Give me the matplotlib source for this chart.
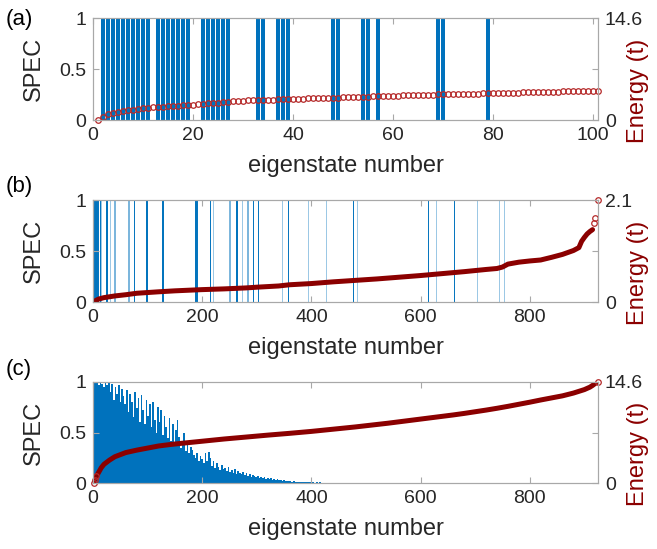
import matplotlib
matplotlib.use('Agg')
import matplotlib.pyplot as plt
import numpy as np

plt.rcParams['font.family'] = ['Liberation Sans', 'DejaVu Sans']

blue = '#0072BD'
dark_red = '#8B0000'
txt = '#262626'
spine = '#a8a8a8'

# ---- panel (a): 101 eigenstates
spec_a_states = [2, 3, 4, 5, 6, 7, 8, 9, 10, 11, 13, 14, 15, 16, 17, 18, 19,
                 22, 23, 24, 25, 26, 27, 33, 34, 37, 38, 39, 48, 49, 54, 55, 57,
                 69, 70, 79]
energy_a = [0.0, 0.4, 0.85, 1.0, 1.15, 1.3, 1.4, 1.5, 1.6, 1.7,
            1.75, 1.8, 1.85, 1.9, 1.95, 2.0, 2.05, 2.1, 2.15, 2.2,
            2.25, 2.3, 2.4, 2.45, 2.5, 2.55, 2.6, 2.65, 2.7, 2.75,
            2.8, 2.82, 2.85, 2.88, 2.9, 2.93, 2.95, 2.98, 3.0, 3.02,
            3.05, 3.07, 3.1, 3.12, 3.14, 3.16, 3.18, 3.2, 3.22, 3.25,
            3.27, 3.29, 3.31, 3.33, 3.35, 3.38, 3.4, 3.42, 3.45, 3.47,
            3.49, 3.51, 3.53, 3.55, 3.58, 3.6, 3.62, 3.65, 3.68, 3.7,
            3.72, 3.73, 3.74, 3.75, 3.76, 3.77, 3.78, 3.8, 3.81, 3.82,
            3.84, 3.86, 3.88, 3.9, 3.92, 3.94, 3.96, 3.98, 4.0, 4.02,
            4.04, 4.06, 4.08, 4.1, 4.12, 4.14, 4.16, 4.17, 4.18, 4.19, 4.2]
emax_a = 14.6

# ---- panel (b): 925 eigenstates
spec_b_dark = [3, 6, 9, 13, 25, 75, 98, 127, 188, 190, 214, 263, 293, 302,
               357, 476, 614, 661]
spec_b_light = [15, 31, 39, 65, 220, 250, 273, 283, 346, 394, 427, 484,
                628, 703, 744, 753]
states_b = [1, 5, 10, 20, 40, 60, 80, 100, 120, 150, 180, 200, 240, 280, 300,
            340, 360, 400, 440, 480, 520, 560, 600, 640, 680, 720, 740, 750,
            760, 780, 800, 820, 840, 860, 880, 890, 895, 900, 905, 910, 915]
energy_b = [0.0, 0.03, 0.06, 0.09, 0.125, 0.15, 0.18, 0.195, 0.21, 0.23,
            0.245, 0.255, 0.27, 0.29, 0.305, 0.33, 0.355, 0.38, 0.415, 0.445,
            0.475, 0.51, 0.545, 0.585, 0.625, 0.67, 0.69, 0.72, 0.78, 0.82,
            0.845, 0.865, 0.92, 0.98, 1.06, 1.12, 1.25, 1.33, 1.4, 1.45, 1.49]
# isolated top states
top_states_b = [918, 919, 925]
top_energy_b = [1.62, 1.72, 2.1]
emax_b = 2.1

# ---- panel (c): 925 eigenstates, SPEC in 3-state bins (states 1-480)
spec_c = [1.0, 0.99, 1.0, 0.97, 1.0, 0.98, 0.95, 1.0, 0.97, 0.99,
          0.9, 0.98, 0.82, 0.95, 0.88, 0.97, 0.8, 0.93, 0.86, 0.78,
          0.92, 0.7, 0.88, 0.8, 0.65, 0.9, 0.74, 0.84, 0.6, 0.87,
          0.72, 0.58, 0.82, 0.66, 0.78, 0.55, 0.8, 0.62, 0.5, 0.75,
          0.6, 0.72, 0.48, 0.66, 0.55, 0.45, 0.64, 0.42, 0.58, 0.4,
          0.52, 0.62, 0.46, 0.35, 0.42, 0.5, 0.32, 0.4, 0.3, 0.36,
          0.33, 0.28, 0.25, 0.3, 0.22, 0.27, 0.24, 0.2, 0.3, 0.22,
          0.31, 0.25, 0.17, 0.22, 0.15, 0.2, 0.16, 0.13, 0.18, 0.14,
          0.15, 0.12, 0.16, 0.11, 0.13, 0.1, 0.14, 0.09, 0.12, 0.1,
          0.09, 0.11, 0.08, 0.1, 0.07, 0.09, 0.06, 0.08, 0.07, 0.06,
          0.07, 0.05, 0.06, 0.045, 0.055, 0.04, 0.05, 0.035, 0.045, 0.03,
          0.04, 0.03, 0.035, 0.025, 0.03, 0.02, 0.028, 0.018, 0.022, 0.015,
          0.018, 0.014, 0.016, 0.012, 0.014, 0.01, 0.012, 0.009, 0.011, 0.008,
          0.009, 0.007, 0.008, 0.006, 0.007, 0.005, 0.006, 0.005, 0.006, 0.004,
          0.005, 0.004, 0.004, 0.003, 0.004, 0.003, 0.003, 0.002, 0.003, 0.002,
          0.002, 0.002, 0.002, 0.001, 0.002, 0.001, 0.001, 0.001, 0.001, 0.001]
bin_c = 3
states_c = [1, 3, 6, 10, 15, 20, 30, 40, 60, 80, 100, 120, 140, 160, 180, 200,
            220, 240, 260, 280, 300, 320, 340, 360, 380, 400, 420, 440, 460,
            480, 500, 520, 540, 560, 580, 600, 620, 640, 660, 680, 700, 720,
            740, 760, 780, 800, 820, 840, 860, 880, 900, 910, 915, 920, 925]
energy_c = [0.0, 0.45, 0.95, 1.5, 2.2, 2.7, 3.3, 3.8, 4.4, 4.75, 5.05, 5.35,
            5.55, 5.72, 5.88, 6.04, 6.2, 6.36, 6.5, 6.64, 6.78, 6.92, 7.05,
            7.18, 7.32, 7.46, 7.62, 7.78, 7.94, 8.1, 8.28, 8.46, 8.64, 8.84,
            9.04, 9.24, 9.44, 9.64, 9.84, 10.06, 10.3, 10.54, 10.8, 11.08,
            11.38, 11.68, 12.0, 12.3, 12.6, 13.0, 13.5, 13.85, 14.1, 14.4, 14.6]
emax_c = 14.6
n_states = 925

fig = plt.figure(figsize=(6.57, 5.49), dpi=100)
rects = [[0.1416, 0.7814, 0.7686, 0.1858],
         [0.1416, 0.4499, 0.7686, 0.1858],
         [0.1416, 0.1202, 0.7686, 0.1840]]
axes = []
for r in rects:
    ax = fig.add_axes(r)
    ax2 = ax.twinx()
    axes.append((ax, ax2))


def style(ax, ax2, xmax, xticks, emax):
    ax.set_xlim(0, xmax)
    ax.set_ylim(0, 1)
    ax.set_yticks([0, 0.5, 1])
    ax.set_yticklabels(['0', '0.5', '1'])
    ax.set_xticks(xticks)
    ax2.set_ylim(0, emax)
    ax2.set_yticks([0, emax / 2, emax])
    ax2.set_yticklabels(['0', '', f'{emax:g}'])
    for a in (ax, ax2):
        for s in a.spines.values():
            s.set_color(spine)
            s.set_linewidth(0.8)
        a.tick_params(direction='in', colors=spine, labelcolor=txt,
                      labelsize=14, length=4, width=0.8, pad=5)
    ax.tick_params(top=True)
    ax.set_xlabel('eigenstate number', fontsize=17, color=txt, labelpad=8)
    ax.set_ylabel('SPEC', fontsize=17, color=txt)
    ax.yaxis.set_label_coords(-0.095, 0.5)
    ax2.set_ylabel('Energy (t)', fontsize=17, color=dark_red, rotation=90)
    ax2.yaxis.set_label_coords(1.058, 0.29)


# (a)
ax, ax2 = axes[0]
ax.bar(spec_a_states, np.ones(len(spec_a_states)), width=0.86, color=blue)
ax2.plot(np.arange(1, len(energy_a) + 1), energy_a, 'o', ms=4, mfc='none',
         mec='#b52a2a', mew=0.9, clip_on=False)
style(ax, ax2, 101, [0, 20, 40, 60, 80, 100], emax_a)

# (b)
ax, ax2 = axes[1]
ax.bar(spec_b_dark, np.ones(len(spec_b_dark)), width=0.8, color=blue,
       edgecolor=blue, linewidth=0.7)
ax.bar(spec_b_light, np.ones(len(spec_b_light)), width=0.8, color=blue,
       edgecolor=blue, linewidth=0.7, alpha=0.4)
ax2.plot(states_b, energy_b, '-', lw=3.6, color=dark_red, solid_capstyle='round')
ax2.plot(top_states_b, top_energy_b, 'o', ms=4, mfc='none', mec='#b52a2a',
         mew=0.9, clip_on=False)
style(ax, ax2, n_states, [0, 200, 400, 600, 800], emax_b)

# (c)
ax, ax2 = axes[2]
x_c = np.arange(len(spec_c)) * bin_c + 0.5
ax.bar(x_c, spec_c, width=bin_c, align='edge', color=blue, linewidth=0)
ax2.plot(states_c, energy_c, '-', lw=3.6, color=dark_red, solid_capstyle='round')
ax2.plot(states_c[:3], energy_c[:3], 'o', ms=4, mfc='none', mec='#b52a2a',
         mew=0.9, clip_on=False)
ax2.plot(states_c[-1:], energy_c[-1:], 'o', ms=4, mfc='none', mec='#b52a2a',
         mew=0.9, clip_on=False)
style(ax, ax2, n_states, [0, 200, 400, 600, 800], emax_c)

for lab, y in zip(['(a)', '(b)', '(c)'], [0.965, 0.66, 0.327]):
    fig.text(0.008, y, lab, fontsize=16, color='black', va='center')

fig.savefig('out.png', dpi=100)
